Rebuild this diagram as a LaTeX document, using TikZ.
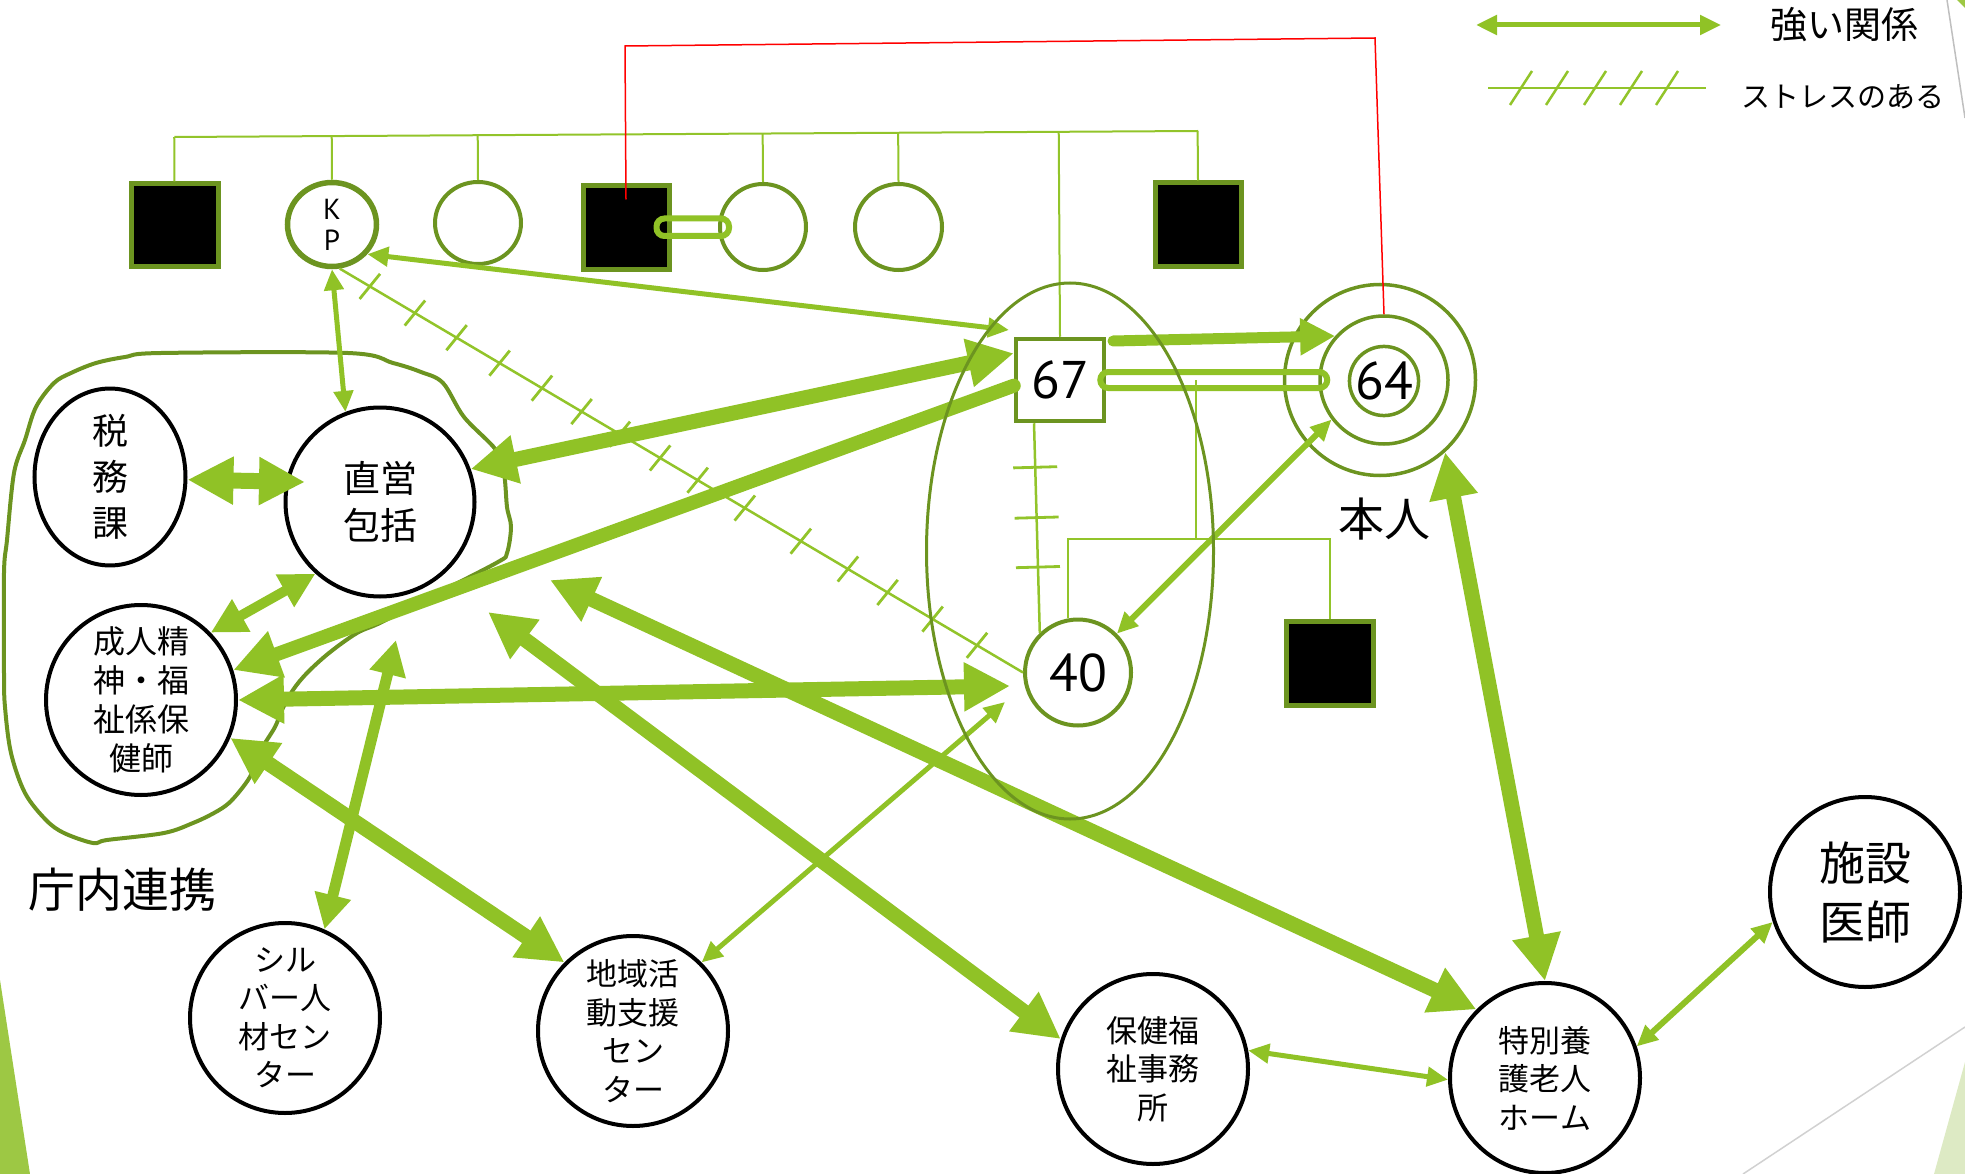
\documentclass[tikz,border=0pt]{standalone}
\usepackage{fontspec}
\setmainfont{Noto Sans CJK JP}
\newfontfamily\numfont{PT Sans}
\usetikzlibrary{arrows.meta,shapes.geometric,calc,decorations.markings}

\definecolor{agreen}{RGB}{144,194,38}
\definecolor{ringgreen}{RGB}{108,148,32}
\definecolor{linegreen}{RGB}{146,196,42}
\definecolor{decogreen}{RGB}{157,200,68}
\definecolor{palegreen}{RGB}{221,234,196}

\tikzset{
  org/.style={circle, draw=black, line width=4pt, fill=white, inner sep=0pt,
    minimum size=190pt, align=center, font=\fontsize{31pt}{38.5pt}\selectfont},
  blacksq/.style={rectangle, draw=ringgreen, line width=5pt, fill=black,
    inner sep=0pt, minimum width=86pt, minimum height=84pt},
  female/.style={ellipse, draw=ringgreen, line width=4pt, fill=white,
    inner sep=0pt, minimum width=86pt, minimum height=84pt},
  kin/.style={draw=linegreen, line width=2pt},
  stress/.style={draw=linegreen, line width=2.5pt},
  hatchat/.style={postaction={decorate, decoration={markings,
    mark=at position #1 with {\draw[linegreen, line width=2.8pt] (-2.4pt,-16pt) -- (2.4pt,16pt);}}}},
  vhatchat/.style={postaction={decorate, decoration={markings,
    mark=at position #1 with {\draw[linegreen, line width=2.8pt] (0pt,-22pt) -- (0pt,22pt);}}}},
  bigarr/.style={draw=agreen, line width=15pt, >={Triangle[length=46pt,width=46pt]}},
  midarr/.style={draw=agreen, line width=10pt, >={Triangle[length=35pt,width=35pt]}},
  thinarr/.style={draw=agreen, line width=5pt, >={Triangle[length=21pt,width=19pt]}},
  couple/.style={draw=agreen, line width=6pt, rounded corners=8pt},
  redline/.style={draw=red, line width=1.5pt},
  numtext/.style={font=\numfont\fontsize{53pt}{53pt}\selectfont},
}

\begin{document}
\begin{tikzpicture}[x=1pt,y=-1pt]
\useasboundingbox (0,0) rectangle (1965,1174);

% slide decoration at the edges
\fill[decogreen] (0,980) -- (30,1174) -- (0,1174) -- cycle;
\draw[black!18, line width=1.5pt] (1743,1174) -- (1965,1027);
\fill[palegreen] (1934,1174) -- (1965,1062) -- (1965,1174) -- cycle;
\draw[black!25, line width=1.5pt] (1947,0) -- (1965,118);
\fill[decogreen] (1957,0) -- (1965,0) -- (1965,8) -- cycle;

% boundary of the municipal offices
\draw[ringgreen, line width=4pt] plot[smooth cycle, tension=0.55] coordinates {
  (161,353) (348,353) (393,363) (421,372) (443,383) (464,417) (496,450)
  (504,473) (507,507) (511,527) (507,553) (498,562) (440,592) (382,622)
  (357,633) (329,653) (307,673) (293,690) (282,710) (275,727) (261,750)
  (252,773) (243,787) (229,803) (214,813) (193,823) (164,833) (107,840)
  (93,843) (64,833) (46,820) (25,793) (11,753) (5,707) (4,673) (4,573)
  (7,540) (14,473) (25,440) (36,407) (54,383) (71,373) (96,363) (125,357)};

% genogram: siblings
\node[blacksq, minimum width=87pt, minimum height=83pt] (sq1) at (174.5,225.5) {};
\node[female, line width=5.5pt, minimum width=89pt, minimum height=84pt, align=center,
      font=\numfont\fontsize{29pt}{31pt}\selectfont] (kp) at (332,224.5) {K\\P};
\node[female, minimum height=82pt] (sis1) at (478,223) {};
\node[blacksq] (sq3) at (626,227.5) {};
\node[female, minimum height=86pt] (sis2) at (763,227) {};
\node[female, minimum width=87pt, minimum height=86pt] (sis3) at (898.5,227) {};
\node[blacksq] (sqR) at (1198,225) {};

% the couple and their children
\node[rectangle, draw=ringgreen, line width=4.5pt, fill=white, inner sep=0pt,
      minimum width=88pt, minimum height=82pt, numtext] (c67) at (1060,380) {67};
\node[circle, draw=ringgreen, line width=3.5pt, minimum size=191pt] (c64) at (1380,380) {};
\node[circle, draw=ringgreen, line width=3.5pt, fill=white, minimum size=128pt] (c64m) at (1384,380) {};
\node[circle, draw=ringgreen, line width=3.5pt, fill=white, minimum size=66pt, inner sep=0pt,
      numtext] (c64i) at (1384,381) {64};
\node[circle, draw=ringgreen, line width=4pt, fill=white, minimum size=106pt, inner sep=0pt,
      numtext] (c40) at (1078,672.5) {40};
\node[blacksq, minimum width=87pt] (sq2) at (1329.5,663) {};

% support organisations
\node[org, shape=ellipse, minimum width=151pt, minimum height=159pt,
      font=\fontsize{36pt}{46pt}\selectfont] (zei) at (110,477) {税\\務\\課};
\node[org, minimum size=189pt, font=\fontsize{37pt}{47pt}\selectfont] (choku) at (380,502) {直営\\包括};
\node[org, font=\fontsize{32pt}{39pt}\selectfont] (seijin) at (141,700) {成人精\\神・福\\祉係保\\健師};
\node[org] (silver) at (285,1018) {シル\\バー人\\材セン\\ター};
\node[org] (chiiki) at (633,1031) {地域活\\動支援\\セン\\ター};
\node[org] (hoken) at (1153,1069) {保健福\\祉事務\\所};
\node[org] (tokuyou) at (1545,1078) {特別養\\護老人\\ホーム};
\node[org, font=\fontsize{46pt}{59pt}\selectfont] (shisetsu) at (1865,892) {施設\\医師};

% sibling bar and drop lines
\coordinate (barL) at (174.5,137);
\coordinate (barR) at (1198,131);
\draw[kin] (barL) -- (barR);
\foreach \n in {sq1,kp,sis1,sis2,sis3,c67,sqR}
  \draw[kin] (\n.north) -- ($(barL)!(\n.north)!(barR)$);

% marriage links
\draw[couple] ([xshift=-15pt,yshift=9pt]sq3.east) rectangle ([xshift=11pt,yshift=-9pt]sis2.west);
\draw[couple] ([xshift=-6pt,yshift=8pt]c67.east) rectangle ([xshift=9pt,yshift=-8pt]c64m.west);

% children of the couple
\coordinate (kids) at (1196,380);
\coordinate (kidbar) at (1196,539);
\draw[kin] (kids) -- (kidbar);
\draw[kin] (c40.100) |- (kidbar) -| (sq2.north);

% red link
\coordinate (redTL) at (625,46);
\coordinate (redTR) at (1375,38);
\draw[redline] ([yshift=28pt]sq3.center) -- (redTL) -- (redTR) -- (c64m.north);

% stressful relations
\draw[stress, hatchat=0.044, hatchat=0.110, hatchat=0.171, hatchat=0.234, hatchat=0.296,
      hatchat=0.354, hatchat=0.410, hatchat=0.469, hatchat=0.524, hatchat=0.593,
      hatchat=0.675, hatchat=0.744, hatchat=0.802, hatchat=0.868, hatchat=0.933]
  (kp.-80) -- (c40.west);
\draw[stress, vhatchat=0.21, vhatchat=0.45, vhatchat=0.686] (c67.239) -- (c40.134);

% free arrow ends
\coordinate (t67a) at (1009,330);
\coordinate (t67b) at (1113,341);
\coordinate (t40a) at (1010,686);
\coordinate (t40b) at (1005,702);
\coordinate (tzc) at (305,482);
\coordinate (fsilver) at (396,640);
\coordinate (fhoken) at (488,612);
\coordinate (ftoku) at (550,580);

% strong relations
\draw[bigarr,<->] (choku.20) -- (c67.150);
\draw[bigarr, line width=14pt, line cap=round, ->] (c67.187) -- (seijin.18);
\draw[bigarr,<->] (seijin.east) -- (t40a);
\draw[midarr,<->] (seijin.44) -- (choku.228);
\draw[draw=agreen, line width=16pt, >={Triangle[length=46pt,width=45pt]}, <->] (zei.-2) -- (tzc);
\draw[midarr, line width=11pt, <->] (silver.66) -- (fsilver);
\draw[bigarr,<->] (seijin.-23) -- (chiiki.135);
\draw[thinarr,<->] (chiiki.45) -- (t40b);
\draw[bigarr,<->] (fhoken) -- (hoken.162);
\draw[bigarr,<->] (ftoku) -- (tokuyou.135);
\draw[bigarr,<->] (c64.-48) -- (tokuyou.north);
\draw[thinarr,<->] (hoken.11) -- (tokuyou.181);
\draw[thinarr, line width=6pt, <->] (tokuyou.19) -- (shisetsu.198);
\draw[thinarr, line width=6pt, <->] (c40.45) -- (c64m.217);
\draw[midarr, line width=11pt, line cap=round, ->] (t67b) -- (c64m.138);
\draw[thinarr,<->] (kp.-40) -- (t67a);
\draw[thinarr,<->] (kp.south) -- (choku.111);

% household circle
\node[ellipse, draw=ringgreen, line width=3pt, inner sep=0pt,
      minimum width=287pt, minimum height=536pt] (household) at (1070,551) {};

% labels
\node[font=\fontsize{46pt}{46pt}\selectfont] (honnin) at (1384,519) {本人};
\node[font=\fontsize{47pt}{47pt}\selectfont] (chounai) at (122,890) {庁内連携};

% legend
\coordinate (lgA1) at (1476,25);
\coordinate (lgA2) at (1721,25);
\draw[thinarr,<->] (lgA1) -- (lgA2);
\node[font=\fontsize{37pt}{37pt}\selectfont] (lgstrong) at (1844,25) {強い関係};
\coordinate (lgS1) at (1488,88);
\coordinate (lgS2) at (1706,88);
\draw[stress] (lgS1) -- (lgS2);
\foreach \c in {1521,1557,1595,1631,1667}
  \draw[stress] (\c-11,105) -- (\c+11,71);
\node[font=\fontsize{29pt}{29pt}\selectfont] (lgstress) at (1843,97) {ストレスのある};
\end{tikzpicture}
\end{document}
